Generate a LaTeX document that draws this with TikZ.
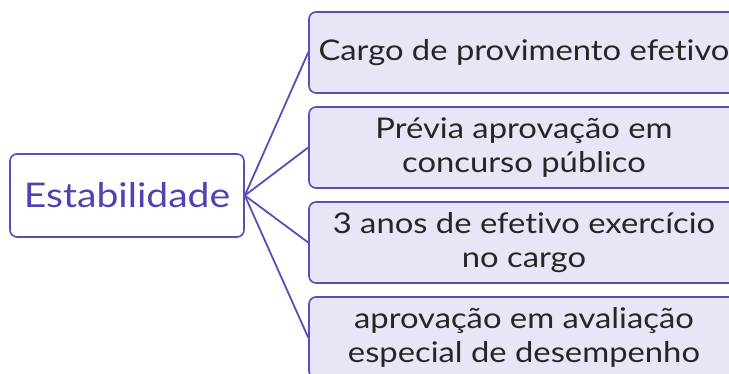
\documentclass[tikz,border=0pt]{standalone}
\usepackage{fontspec}
\setmainfont{Lato}[FakeStretch=1.15, Ligatures=NoCommon]
\definecolor{edgec}{HTML}{5A4DB8}
\definecolor{fillc}{HTML}{E8E5F7}
\definecolor{hubtxt}{HTML}{4E43B2}
\definecolor{leaftxt}{HTML}{262626}
\tikzset{
  hubbox/.style={draw=edgec, line width=1.6pt, fill=white, rounded corners=7pt,
    minimum width=234pt, minimum height=83pt, inner sep=0pt,
    text=hubtxt, font=\fontsize{34}{40}\selectfont},
  leafbox/.style={draw=edgec, line width=1.6pt, fill=fillc, rounded corners=7pt,
    minimum width=430pt, minimum height=81pt, inner sep=0pt, align=center,
    text=leaftxt, font=\fontsize{28.5}{34}\selectfont},
  link/.style={draw=edgec, line width=1.8pt}
}
\begin{document}
\begin{tikzpicture}[x=1pt,y=-1pt]
\useasboundingbox (0,0) rectangle (729,374);
\clip (0,0) rectangle (729,374);
\node[hubbox] (est) at (127,195.5) {Estabilidade};
\node[leafbox] (b1) at (524,52.5) {Cargo de provimento efetivo};
\node[leafbox] (b2) at (524,147.5) {Prévia aprovação em\\concurso público};
\node[leafbox] (b3) at (524,242.5) {3 anos de efetivo exercício\\no cargo};
\node[leafbox] (b4) at (524,337.5) {aprovação em avaliação\\especial de desempenho};
\foreach \b in {b1,b2,b3,b4} \draw[link] (est.east) -- (\b.west);
\end{tikzpicture}
\end{document}
